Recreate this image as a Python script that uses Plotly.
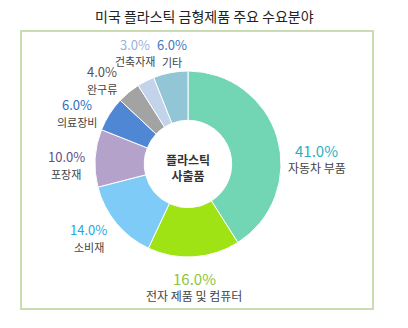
import math
import plotly.graph_objects as go

# Demand shares of US plastic injection-moulded products
categories = ["자동차 부품", "전자 제품 및 컴퓨터", "소비재", "포장재",
              "의료장비", "완구류", "건축자재", "기타"]
shares = [41.0, 16.0, 14.0, 10.0, 6.0, 4.0, 3.0, 6.0]

# Styling
slice_colors = ["#72d6b5", "#9fe314", "#7ecbf7", "#b4a2cb",
                "#4f87d5", "#a3a3a3", "#c3d3ea", "#92c6d6"]
pct_colors = ["#2bb0c3", "#8cc53f", "#1ea8de", "#5e4f86",
              "#2e6fc0", "#555555", "#9ab2db", "#3e78bd"]
pct_size = [15, 15, 13, 13, 13, 13, 13, 13]
name_size = [12, 12, 11, 11, 11, 11, 11, 11]
# label distance from centre (px) and angular nudge (deg) per slice
label_radius = [129, 123, 124, 122, 122, 120, 123, 112]
label_nudge = [14.0, 0.8, 2.8, -4.1, -7.7, -6.1, 1.5, 2.6]

W, H = 408, 328
cx, cy, R = 188, 164, 93  # pie centre / radius in px (from top-left)

fig = go.Figure()
fig.add_trace(go.Pie(
    labels=categories,
    values=shares,
    sort=False,
    direction="clockwise",
    rotation=0,
    hole=0.47,
    marker=dict(colors=slice_colors, line=dict(color="#ffffff", width=1)),
    textinfo="none",
    hoverinfo="label+percent",
    domain=dict(x=[(cx - R) / W, (cx + R) / W],
                y=[1 - (cy + R) / H, 1 - (cy - R) / H]),
    showlegend=False,
))

annotations = []
total = sum(shares)
cum = 0.0
for i, (name, v) in enumerate(zip(categories, shares)):
    mid = (cum + v / 2) / total * 360.0
    cum += v
    a = math.radians(mid + label_nudge[i])
    px = cx + label_radius[i] * math.sin(a)
    py = cy - label_radius[i] * math.cos(a)
    xp, yp = px / W, 1 - py / H
    annotations.append(dict(
        x=xp, y=yp, xref="paper", yref="paper", showarrow=False,
        xanchor="center", yanchor="middle",
        text=f"{v:.1f}%", yshift=8.5,
        font=dict(family="Noto Sans CJK KR", size=pct_size[i],
                  color=pct_colors[i]),
    ))
    annotations.append(dict(
        x=xp, y=yp, xref="paper", yref="paper", showarrow=False,
        xanchor="center", yanchor="middle",
        text=name, yshift=-8.5,
        font=dict(family="Noto Sans CJK KR", size=name_size[i],
                  color="#444444"),
    ))

# centre caption
annotations.append(dict(
    x=cx / W, y=1 - (cy + 3) / H, xref="paper", yref="paper", showarrow=False,
    xanchor="center", yanchor="middle",
    text="<b>플라스틱</b><br><b>사출품</b>",
    font=dict(family="Noto Sans CJK KR", size=12, color="#333333"),
))
# title
annotations.append(dict(
    x=204 / W, y=1 - 16 / H, xref="paper", yref="paper", showarrow=False,
    xanchor="center", yanchor="middle",
    text="미국 플라스틱 금형제품 주요 수요분야",
    font=dict(family="Noto Sans CJK KR", size=14, color="#222222"),
))

fig.update_layout(
    width=W, height=H,
    margin=dict(l=0, r=0, t=0, b=0),
    paper_bgcolor="#ffffff",
    plot_bgcolor="#ffffff",
    annotations=annotations,
    shapes=[dict(
        type="rect", xref="paper", yref="paper",
        x0=21 / W, x1=373 / W, y0=1 - 309 / H, y1=1 - 31 / H,
        line=dict(color="#cadcb1", width=2), fillcolor="rgba(0,0,0,0)",
        layer="below",
    )],
)

fig.write_html("out.html")
